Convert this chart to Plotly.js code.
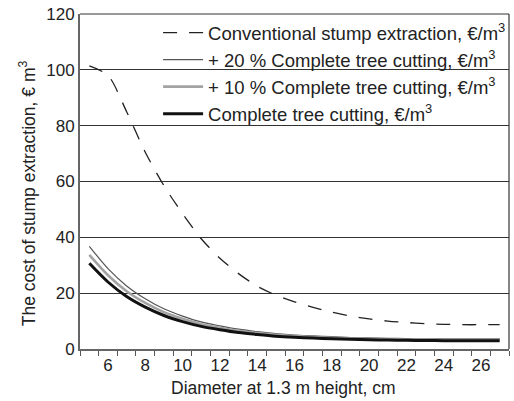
<!DOCTYPE html>
<html>
<head>
<meta charset="utf-8">
<script src="https://cdn.plot.ly/plotly-3.0.1.min.js"></script>
<style>html,body{margin:0;padding:0;background:#fff;}#chart{width:514px;height:401px;}</style>
</head>
<body>
<div id="chart"></div>
<script>
// Diameter categories (cm)
const diameters = [5,6,7,8,9,10,11,12,13,14,15,16,17,18,19,20,21,22,23,24,25,26,27];
// Conventional stump extraction, €/m3
const conventional = [101.4,98.0,85.0,70.5,58.5,48.5,39.5,32.5,27.0,22.5,19.3,16.9,14.9,13.2,11.8,10.8,10.0,9.5,9.1,8.85,8.7,8.7,8.7];
// +20 % Complete tree cutting
const plus20 = [36.8,28.8,22.6,18.0,14.4,11.8,9.7,8.3,7.1,6.2,5.5,5.0,4.7,4.4,4.1,3.95,3.85,3.7,3.65,3.6,3.6,3.6,3.6];
// +10 % Complete tree cutting
const plus10 = [33.7,26.4,20.7,16.5,13.2,10.8,8.9,7.6,6.5,5.7,5.1,4.6,4.3,4.0,3.8,3.6,3.5,3.4,3.35,3.3,3.3,3.3,3.3];
// Complete tree cutting
const complete = [30.7,24.0,18.8,15.0,12.0,9.8,8.1,6.9,5.9,5.2,4.6,4.2,3.9,3.65,3.45,3.3,3.2,3.1,3.05,3.0,3.0,3.0,3.0];
// Tick labels
const xTickVals = [6,8,10,12,14,16,18,20,22,24,26];
const xTickText = ['6','8','10','12','14','16','18','20','22','24','26'];
const yTickVals = [0,20,40,60,80,100,120];

const names = [
  'Conventional stump extraction, €/m<sup>3</sup>',
  '+ 20 % Complete tree cutting, €/m<sup>3</sup>',
  '+ 10 % Complete tree cutting, €/m<sup>3</sup>',
  'Complete tree cutting, €/m<sup>3</sup>'
];
const xTitle = 'Diameter at 1.3 m height, cm';
const yTitle = 'The cost of stump extraction, € m<sup>3</sup>';

const traces = [
  {x: diameters, y: conventional, name: names[0], mode: 'lines',
   line: {color: '#222', width: 1.3, dash: '14px,12px', shape: 'spline', smoothing: 0.8}},
  {x: diameters, y: plus20, name: names[1], mode: 'lines',
   line: {color: '#555', width: 1.2, shape: 'spline', smoothing: 0.8}},
  {x: diameters, y: plus10, name: names[2], mode: 'lines',
   line: {color: '#a3a3a3', width: 2.6, shape: 'spline', smoothing: 0.8}},
  {x: diameters, y: complete, name: names[3], mode: 'lines',
   line: {color: '#111', width: 3, shape: 'spline', smoothing: 0.8}}
];

const fontFam = 'Liberation Sans, Arial, sans-serif';
const layout = {
  width: 514, height: 401,
  margin: {l: 80, r: 3, t: 14, b: 52},
  paper_bgcolor: '#fff', plot_bgcolor: '#fff',
  font: {family: fontFam, size: 17, color: '#222'},
  showlegend: true,
  legend: {x: 0.182, xanchor: 'left', y: 1.0, yanchor: 'top',
           bgcolor: 'rgba(0,0,0,0)', font: {size: 18.5, color: '#222'},
           itemwidth: 40, tracegroupgap: 0},
  xaxis: {range: [4.5, 27.5], tickmode: 'array', tickvals: xTickVals, ticktext: xTickText,
          ticks: '', showgrid: false, zeroline: false,
          showline: true, linecolor: '#666', linewidth: 2,
          tickfont: {size: 17, color: '#222'},
          minor: {tick0: 4.5, dtick: 1, ticks: 'outside', ticklen: 5, tickcolor: '#555', tickwidth: 1, showgrid: false}},
  yaxis: {range: [0, 120], tickmode: 'array', tickvals: yTickVals, ticks: '',
          showgrid: true, gridcolor: '#333', gridwidth: 1, zeroline: false,
          showline: true, linecolor: '#666', linewidth: 2,
          tickfont: {size: 17, color: '#222'}},
  annotations: [
    {text: xTitle, xref: 'paper', yref: 'paper', x: (284 - 80) / 431, y: -(388 - 349) / 335,
     xanchor: 'center', yanchor: 'middle', showarrow: false, font: {size: 17.5, color: '#222'}},
    {text: yTitle, xref: 'paper', yref: 'paper', x: -(80 - 27) / 431, y: (349 - 193) / 335,
     xanchor: 'center', yanchor: 'middle', textangle: -90, showarrow: false, font: {size: 17.5, color: '#222'}}
  ],
  shapes: [
    {type: 'line', xref: 'paper', yref: 'paper', x0: 0, x1: 1, y0: 1, y1: 1, line: {color: '#333', width: 1.2}},
    {type: 'line', xref: 'paper', yref: 'paper', x0: 1, x1: 1, y0: 0, y1: 1, line: {color: '#333', width: 1.2}}
  ]
};

Plotly.newPlot('chart', traces, layout, {displayModeBar: false, staticPlot: true});
</script>
</body>
</html>
